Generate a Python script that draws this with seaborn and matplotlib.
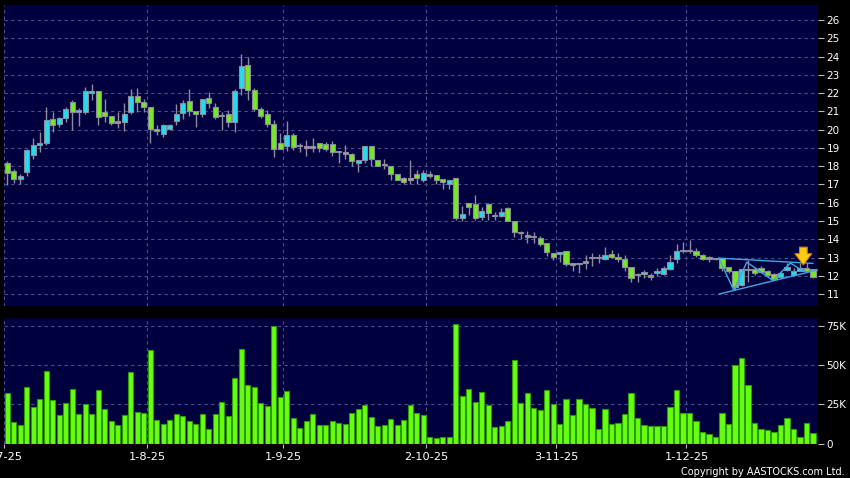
import matplotlib
matplotlib.use("Agg")
import matplotlib.pyplot as plt
import seaborn as sns
import pandas as pd

# daily OHLC (2 Jul 2025 .. 30 Dec 2025)
opens = [18.19, 17.72, 17.28, 17.70, 18.59, 19.14, 19.25, 20.56, 20.31, 20.62,
         21.49, 20.95, 20.98, 22.00, 22.11, 20.96, 20.75, 20.38, 20.40, 20.98,
         21.86, 21.49, 21.22, 20.02, 19.74, 20.02, 20.49, 20.89, 21.58, 21.00,
         20.85, 21.71, 21.22, 20.73, 20.84, 20.40, 22.26, 23.54, 22.17, 21.11,
         20.84, 20.31, 19.29, 19.11, 19.73, 19.09, 19.02, 18.98, 19.27, 19.20,
         19.24, 18.75, 18.68, 18.64, 18.20, 18.33, 19.09, 18.36, 18.05, 18.02,
         17.60, 17.33, 17.22, 17.55, 17.27, 17.45, 17.51, 17.29, 17.00, 17.33,
         15.15, 16.00, 15.91, 15.20, 15.93, 15.25, 15.29, 15.69, 15.02, 14.35,
         14.15, 14.10, 14.05, 13.78, 13.27, 13.18, 13.36, 12.62, 12.65, 12.72,
         12.98, 12.98, 12.91, 13.20, 13.02, 12.91, 12.47, 12.02, 12.22, 11.96,
         12.15, 12.09, 12.36, 12.91, 13.35, 13.35, 13.38, 13.15, 12.94, 12.91,
         12.95, 12.51, 12.29, 11.51, 12.33, 12.36, 12.42, 12.24, 12.09, 11.96,
         12.33, 12.05, 12.29, 12.42, 12.36]
highs = [18.30, 17.85, 17.58, 18.95, 19.55, 19.87, 21.23, 20.98, 20.70, 21.26,
         21.62, 21.16, 22.35, 22.50, 22.11, 21.70, 20.75, 20.98, 21.48, 22.20,
         22.30, 21.70, 21.22, 20.24, 20.31, 20.31, 21.40, 21.62, 22.20, 21.00,
         21.66, 22.07, 21.44, 20.98, 21.07, 22.20, 24.14, 23.96, 22.30, 21.26,
         21.07, 20.53, 19.80, 20.50, 19.84, 19.27, 19.42, 19.56, 19.27, 19.33,
         19.38, 18.84, 19.15, 18.73, 18.33, 19.09, 19.09, 18.36, 18.38, 18.02,
         17.60, 17.42, 18.36, 17.78, 17.78, 17.75, 17.51, 17.29, 17.27, 17.33,
         15.82, 16.00, 16.42, 15.75, 16.00, 15.51, 15.69, 15.75, 15.02, 14.47,
         14.45, 14.42, 14.18, 13.82, 13.27, 13.29, 13.36, 12.65, 12.69, 13.15,
         13.27, 13.20, 13.56, 13.42, 13.24, 13.15, 12.47, 12.18, 12.33, 12.15,
         12.42, 12.55, 13.15, 13.75, 13.87, 13.96, 13.51, 13.20, 13.09, 13.00,
         12.95, 12.51, 12.29, 12.36, 12.84, 12.51, 12.55, 12.33, 12.18, 12.29,
         12.69, 12.42, 12.73, 12.69, 12.36]
lows = [16.97, 17.10, 17.00, 17.46, 18.37, 18.75, 19.18, 19.89, 20.16, 20.44,
        19.98, 20.20, 20.83, 21.60, 20.26, 20.44, 20.26, 20.07, 19.94, 20.85,
        20.98, 20.98, 19.25, 19.71, 19.59, 20.00, 20.26, 20.58, 20.76, 20.16,
        20.70, 21.17, 20.58, 19.98, 20.13, 19.89, 21.90, 21.60, 21.00, 20.62,
        20.16, 18.52, 18.92, 18.84, 18.91, 18.78, 18.56, 18.78, 18.78, 18.82,
        18.56, 18.15, 18.42, 18.00, 17.69, 18.18, 18.00, 18.02, 17.84, 17.27,
        17.24, 17.02, 17.02, 17.02, 17.11, 17.33, 17.05, 16.73, 16.73, 15.05,
        15.02, 15.33, 15.05, 15.05, 15.05, 15.05, 15.20, 15.02, 14.15, 14.02,
        13.78, 13.82, 13.64, 13.09, 12.84, 12.78, 12.55, 12.29, 12.18, 12.36,
        12.55, 12.73, 12.87, 12.96, 12.78, 12.29, 11.69, 11.69, 11.87, 11.75,
        12.00, 12.05, 12.33, 12.73, 13.27, 13.27, 13.05, 12.84, 12.78, 12.84,
        12.24, 12.15, 11.20, 11.45, 11.64, 12.05, 12.15, 11.96, 11.78, 11.87,
        12.29, 12.00, 12.24, 12.24, 11.87]
closes = [17.61, 17.28, 17.46, 18.88, 19.14, 19.25, 20.53, 20.24, 20.62, 21.11,
          20.95, 21.05, 22.10, 22.11, 20.67, 20.75, 20.35, 20.38, 20.84, 21.86,
          21.49, 21.22, 20.02, 19.90, 20.24, 20.24, 20.84, 21.44, 21.04, 20.85,
          21.66, 21.44, 20.71, 20.73, 20.40, 22.11, 23.48, 22.17, 21.11, 20.75,
          20.31, 18.92, 18.92, 19.73, 19.07, 19.09, 19.02, 19.09, 19.02, 18.96,
          18.75, 18.75, 18.68, 18.27, 18.33, 19.09, 18.38, 18.02, 18.05, 17.60,
          17.27, 17.11, 17.38, 17.38, 17.65, 17.60, 17.27, 17.11, 17.24, 15.15,
          15.36, 15.75, 15.15, 15.56, 15.42, 15.25, 15.51, 15.02, 14.38, 14.35,
          14.15, 14.10, 13.75, 13.33, 13.05, 13.29, 12.64, 12.62, 12.65, 12.72,
          12.98, 12.98, 13.13, 13.05, 12.91, 12.47, 11.87, 12.02, 12.09, 11.96,
          12.29, 12.42, 12.78, 13.38, 13.35, 13.35, 13.15, 12.91, 12.94, 12.91,
          12.42, 12.29, 11.38, 12.36, 12.33, 12.15, 12.20, 12.05, 11.82, 12.18,
          12.47, 12.29, 12.42, 12.29, 11.93]
# volume in thousands of shares
volume_k = [32.0, 13.6, 12.1, 36.0, 23.4, 28.1, 46.0, 27.5, 18.3, 26.0,
            35.0, 18.5, 25.1, 18.8, 33.9, 21.9, 14.1, 11.7, 18.1, 45.4,
            19.8, 19.4, 59.5, 15.1, 12.4, 14.7, 19.0, 17.5, 14.5, 12.6,
            18.5, 9.4, 18.5, 26.6, 17.5, 42.0, 60.1, 37.5, 35.8, 25.8,
            23.7, 75.0, 29.6, 33.5, 16.0, 9.8, 14.3, 18.8, 11.5, 11.5,
            14.3, 13.2, 12.6, 19.6, 22.2, 24.5, 16.6, 11.1, 11.5, 15.6,
            11.9, 14.9, 24.5, 19.2, 17.9, 4.0, 3.4, 4.3, 4.3, 75.9,
            30.3, 34.7, 26.4, 32.6, 24.7, 10.4, 10.9, 14.1, 53.1, 25.6,
            32.2, 22.8, 21.5, 34.1, 25.1, 12.4, 28.1, 18.1, 28.3, 24.9,
            22.8, 9.2, 21.7, 12.4, 13.2, 18.8, 32.2, 16.0, 11.7, 11.1,
            11.3, 10.9, 23.2, 34.1, 19.2, 19.4, 14.5, 7.2, 6.0, 4.3,
            19.6, 12.4, 50.3, 54.8, 37.1, 13.2, 9.4, 8.5, 7.5, 12.1,
            16.4, 9.0, 4.3, 12.8, 7.0]
month_pos = [-0.5, 21.5, 42.5, 64.5, 84.5, 104.5]
month_labels = ["2-7-25", "1-8-25", "1-9-25", "2-10-25", "3-11-25", "1-12-25"]
price_ticks = list(range(11, 27))
vol_ticks = [0, 25, 50, 75]
vol_tick_labels = ["0", "25K", "50K", "75K"]

# triangle pattern drawn on the chart (index, price)
tri_upper = ([109.5, 124.0], [12.97, 12.68])
tri_lower = ([109.5, 125.0], [11.00, 12.35])
tri_zigzag = ([109.5, 111.8, 113.8, 117.8, 120.5, 122.5],
              [12.97, 11.20, 12.75, 11.75, 12.70, 12.25])

df = pd.DataFrame({"open": opens, "high": highs, "low": lows,
                   "close": closes, "volume": volume_k})
df["day"] = range(len(df))

BG = "#00003f"
GRID = "#4d4d8c"
GREEN = "#77e825"
CYAN = "#25dcee"
EDGE = "#8c8c9c"

sns.set_style("dark")
plt.rcParams["font.family"] = ["DejaVu Sans"]

fig = plt.figure(figsize=(8.5, 4.78), dpi=100, facecolor="black")
axp = fig.add_axes([4.0 / 850, 1 - 306.0 / 478, 814.0 / 850, 301.0 / 478])
axv = fig.add_axes([4.0 / 850, 1 - 443.5 / 478, 814.0 / 850, 125.5 / 478])

for ax in (axp, axv):
    ax.set_facecolor(BG)
    for s in ax.spines.values():
        s.set_visible(False)

# candles
body_low = df[["open", "close"]].min(axis=1)
body_h = (df["close"] - df["open"]).abs().clip(lower=0.07)
colors = []
for o, c in zip(df["open"], df["close"]):
    if c > o:
        colors.append(CYAN)
    elif c < o:
        colors.append(GREEN)
    else:
        colors.append("#9a9aa8")
axp.vlines(df["day"], df["low"], df["high"], color=EDGE, lw=1, zorder=2)
axp.bar(df["day"], body_h, bottom=body_low, width=0.82, color=colors,
        edgecolor=EDGE, linewidth=0.8, zorder=3)

axp.plot(*tri_upper, color="#3fa6e6", lw=1, zorder=4)
axp.plot(*tri_lower, color="#3fa6e6", lw=1, zorder=4)
axp.plot(*tri_zigzag, color="#3fa6e6", lw=1, zorder=4)
axp.annotate("", xy=(122.5, 12.45), xytext=(122.5, 13.72),
             arrowprops=dict(arrowstyle="simple,head_width=1.2,head_length=0.8,tail_width=0.55",
                             fc="#ffcc11", ec="#d08a00", lw=0.8), zorder=5)

axp.set_xlim(-0.5, 124.75)
axp.set_ylim(10.35, 26.82)
axp.set_yticks(price_ticks)
axp.set_xticks(month_pos)
axp.set_xticklabels([])

# volume
sns.barplot(data=df, x="day", y="volume", ax=axv, color="#66ff11",
            edgecolor="#2e9a00", linewidth=0.8, width=0.82, saturation=1)
axv.set_xlim(-0.5, 124.75)
axv.set_ylim(0, 80)
axv.set_yticks(vol_ticks)
axv.set_yticklabels(vol_tick_labels)
axv.set_xticks(month_pos)
axv.set_xticklabels(month_labels)
axv.set_xlabel("")
axv.set_ylabel("")

for ax in (axp, axv):
    ax.grid(True, color=GRID, ls=(0, (3, 3)), lw=0.8)
    ax.set_axisbelow(True)
    ax.yaxis.tick_right()
    ax.tick_params(axis="y", which="both", right=True, length=4, width=0.8,
                   color="#bbbbbb", labelcolor="white", labelsize=7.5, pad=2)
axp.tick_params(axis="x", bottom=False, length=0)
axv.tick_params(axis="x", bottom=True, length=3, width=0.8, color="#bbbbbb",
                labelcolor="white", labelsize=8.2, pad=3)

fig.text(0.994, 0.002, "Copyright by AASTOCKS.com Ltd.", ha="right", va="bottom",
         color="white", fontsize=7)

fig.savefig("out.png", dpi=100, facecolor="black")
